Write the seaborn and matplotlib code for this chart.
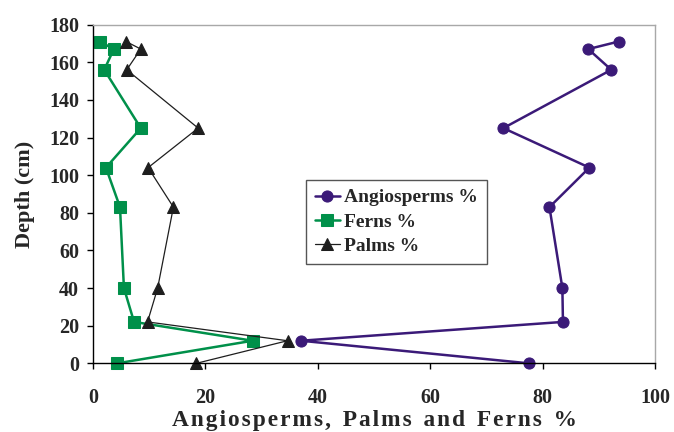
"""Pollen percentages against core depth."""
import matplotlib
matplotlib.use("Agg")
import matplotlib.pyplot as plt
import seaborn as sns

# Data
depth = [171, 167, 156, 125, 104, 83, 40, 22, 12, 0]
angiosperms = [93.5, 88.1, 92.2, 73.0, 88.3, 81.2, 83.5, 83.6, 37.0, 77.5]
ferns = [1.2, 3.7, 2.0, 8.5, 2.3, 4.8, 5.5, 7.3, 28.4, 4.3]
palms = [5.9, 8.5, 6.0, 18.7, 9.8, 14.3, 11.5, 9.7, 34.6, 18.4]

x_ticks = [0, 20, 40, 60, 80, 100]
y_ticks = [0, 20, 40, 60, 80, 100, 120, 140, 160, 180]

sns.set_style("white")
plt.rcParams["font.family"] = ["Liberation Serif", "DejaVu Serif"]
plt.rcParams["font.weight"] = "bold"

fig = plt.figure(figsize=(6.74, 4.32), dpi=100)
ax = fig.add_axes([0.138, 0.159, 0.834, 0.784])

sns.lineplot(x=angiosperms, y=depth, sort=False, estimator=None, ax=ax,
             color="#3b1a78", linewidth=1.8, marker="o", markersize=8,
             markeredgecolor="#3b1a78", label="Angiosperms %", clip_on=False)
sns.lineplot(x=ferns, y=depth, sort=False, estimator=None, ax=ax,
             color="#00904a", linewidth=1.8, marker="s", markersize=8.5,
             markeredgecolor="#00904a", label="Ferns %", clip_on=False)
sns.lineplot(x=palms, y=depth, sort=False, estimator=None, ax=ax,
             color="#1e1e1e", linewidth=0.9, marker="^", markersize=9,
             markeredgecolor="#1e1e1e", label="Palms %", clip_on=False)

ax.set_xlim(0, 100)
ax.set_ylim(0, 180)
ax.set_xticks(x_ticks)
ax.set_yticks(y_ticks)
ax.tick_params(axis="both", direction="out", length=4, width=1, color="black",
               labelsize=14.5, bottom=True, left=True)
ax.tick_params(axis="x", pad=14)
ax.tick_params(axis="y", pad=6)
for lbl in ax.get_xticklabels() + ax.get_yticklabels():
    lbl.set_fontweight("bold")

for side in ["left", "bottom"]:
    ax.spines[side].set_color("black")
    ax.spines[side].set_linewidth(1)
for side in ["top", "right"]:
    ax.spines[side].set_color("#a8a8a8")
    ax.spines[side].set_linewidth(1)

xlab = "A n g i o s p e r m s ,   P a l m s   a n d   F e r n s   %"
xlab = xlab.replace("   ", "\u2002").replace(" ", "\u200a")
ax.set_xlabel(xlab, fontsize=16.8, fontweight="bold", labelpad=1)
ax.set_ylabel("Depth (cm)", fontsize=16, fontweight="bold", labelpad=10)

leg = ax.legend(loc="upper left", bbox_to_anchor=(0.379, 0.541), frameon=True,
                fancybox=False, edgecolor="#555555", framealpha=1,
                prop={"weight": "bold", "size": 14}, handlelength=1.3,
                handletextpad=0.2, borderpad=0.45, labelspacing=0.34,
                borderaxespad=0)
leg.get_frame().set_linewidth(1)

fig.savefig("out.png", dpi=100)
